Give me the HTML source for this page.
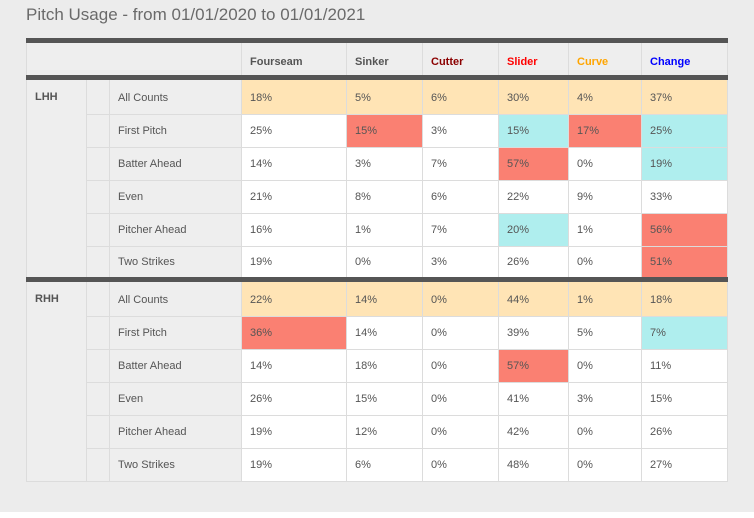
<!DOCTYPE html>
<html><head><style>
html,body{margin:0;padding:0;background:#fff;}
#bg{position:absolute;left:0;top:0;width:754px;height:512px;background:#ececec;}
h1{position:absolute;left:26px;top:5px;margin:0;font:17px "Liberation Sans",sans-serif;color:#6a6a6a;font-weight:normal;}
table{position:absolute;left:26px;top:38px;width:701px;border-collapse:collapse;font:11px "Liberation Sans",sans-serif;color:#555;table-layout:fixed;}
td,th{border:1px solid #dcdcdc;height:33px;padding:0 0 0 8px;text-align:left;background:#fff;box-sizing:border-box;}
th{font-weight:bold;height:37px;background:#eee;padding-top:5px;}
tr.top td,tr.top th{border-top:5px solid #555;height:37px;padding-top:1px;}
tr.top th{padding-top:5px;}
.g{background:#eee;}
tr.top td.lab{font-weight:bold;vertical-align:top;padding-top:11px;}
.o{background:#ffe4b5}.s{background:#fa8072}.t{background:#afeeee}
</style></head><body><div id="bg"></div>
<h1>Pitch Usage - from 01/01/2020 to 01/01/2021</h1>
<table>
<colgroup><col style="width:60px"><col style="width:23px"><col style="width:132px"><col style="width:105px"><col style="width:76px"><col style="width:76px"><col style="width:70px"><col style="width:73px"><col style="width:86px"></colgroup>
<tr class="top"><th colspan="3"></th><th>Fourseam</th><th>Sinker</th><th style="color:#8b0000">Cutter</th><th style="color:#f00">Slider</th><th style="color:#ffa500">Curve</th><th style="color:#00f">Change</th></tr>
<tr class="top"><td class="g lab" rowspan="6">LHH</td><td class="g"></td><td class="g">All Counts</td><td class="o">18%</td><td class="o">5%</td><td class="o">6%</td><td class="o">30%</td><td class="o">4%</td><td class="o">37%</td></tr>
<tr><td class="g"></td><td class="g">First Pitch</td><td>25%</td><td class="s">15%</td><td>3%</td><td class="t">15%</td><td class="s">17%</td><td class="t">25%</td></tr>
<tr><td class="g"></td><td class="g">Batter Ahead</td><td>14%</td><td>3%</td><td>7%</td><td class="s">57%</td><td>0%</td><td class="t">19%</td></tr>
<tr><td class="g"></td><td class="g">Even</td><td>21%</td><td>8%</td><td>6%</td><td>22%</td><td>9%</td><td>33%</td></tr>
<tr><td class="g"></td><td class="g">Pitcher Ahead</td><td>16%</td><td>1%</td><td>7%</td><td class="t">20%</td><td>1%</td><td class="s">56%</td></tr>
<tr><td class="g"></td><td class="g">Two Strikes</td><td>19%</td><td>0%</td><td>3%</td><td>26%</td><td>0%</td><td class="s">51%</td></tr>
<tr class="top"><td class="g lab" rowspan="6">RHH</td><td class="g"></td><td class="g">All Counts</td><td class="o">22%</td><td class="o">14%</td><td class="o">0%</td><td class="o">44%</td><td class="o">1%</td><td class="o">18%</td></tr>
<tr><td class="g"></td><td class="g">First Pitch</td><td class="s">36%</td><td>14%</td><td>0%</td><td>39%</td><td>5%</td><td class="t">7%</td></tr>
<tr><td class="g"></td><td class="g">Batter Ahead</td><td>14%</td><td>18%</td><td>0%</td><td class="s">57%</td><td>0%</td><td>11%</td></tr>
<tr><td class="g"></td><td class="g">Even</td><td>26%</td><td>15%</td><td>0%</td><td>41%</td><td>3%</td><td>15%</td></tr>
<tr><td class="g"></td><td class="g">Pitcher Ahead</td><td>19%</td><td>12%</td><td>0%</td><td>42%</td><td>0%</td><td>26%</td></tr>
<tr><td class="g"></td><td class="g">Two Strikes</td><td>19%</td><td>6%</td><td>0%</td><td>48%</td><td>0%</td><td>27%</td></tr>
</table>
</body></html>
